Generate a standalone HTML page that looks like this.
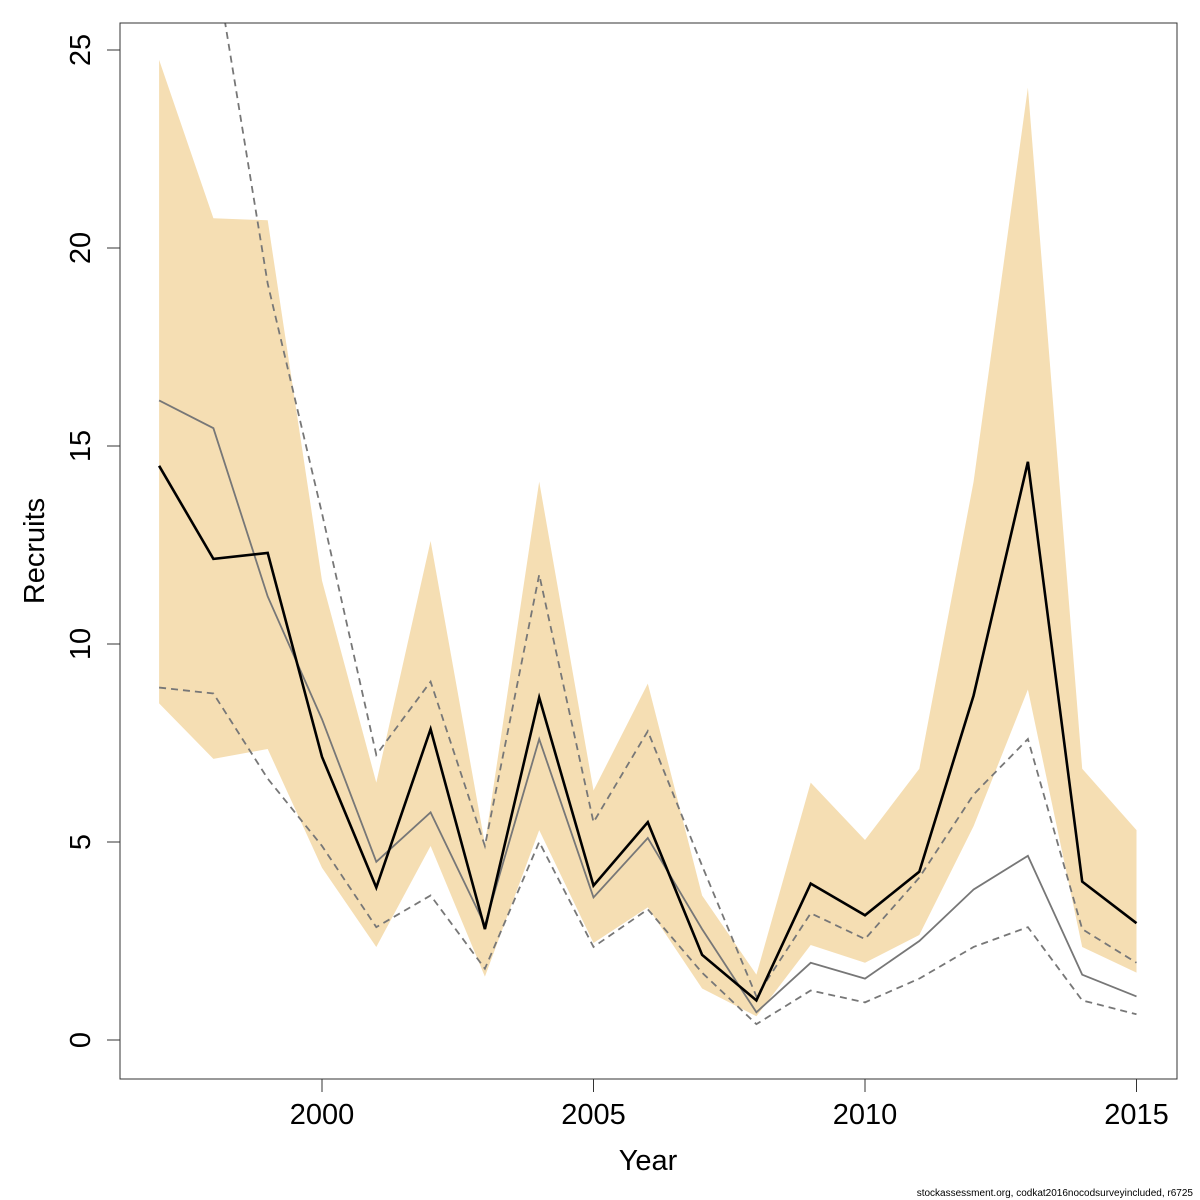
<!DOCTYPE html>
<html><head><meta charset="utf-8"><style>body{margin:0;background:#fff}svg{display:block}</style></head>
<body>
<svg id="chart" width="1200" height="1200" xmlns="http://www.w3.org/2000/svg" font-family="Liberation Sans, DejaVu Sans, sans-serif">
<defs><clipPath id="plotclip"><rect x="120" y="23" width="1057" height="1056"/></clipPath></defs>
<g id="band" clip-path="url(#plotclip)"></g>
<g id="lines" clip-path="url(#plotclip)"></g>
<rect x="120" y="23" width="1057" height="1056" fill="none" stroke="#333" stroke-width="1"/>
<g id="axes"></g>
<text x="648" y="1170" font-size="29" text-anchor="middle">Year</text>
<text transform="translate(44,551) rotate(-90)" font-size="29" text-anchor="middle">Recruits</text>
<text x="1193" y="1196" font-size="10" text-anchor="end">stockassessment.org, codkat2016nocodsurveyincluded, r6725</text>
</svg>
<script>
const years=[1997,1998,1999,2000,2001,2002,2003,2004,2005,2006,2007,2008,2009,2010,2011,2012,2013,2014,2015];
const recruits=[14.5,12.15,12.3,7.15,3.85,7.85,2.8,8.65,3.9,5.5,2.15,1.0,3.95,3.15,4.25,8.7,14.6,4.0,2.95];
const bandUpper=[24.75,20.75,20.7,11.6,6.5,12.6,4.95,14.1,6.3,9.0,3.65,1.65,6.5,5.05,6.85,14.1,24.05,6.85,5.3];
const bandLower=[8.5,7.1,7.35,4.35,2.35,4.9,1.6,5.3,2.45,3.35,1.3,0.6,2.4,1.95,2.65,5.4,8.85,2.35,1.7];
const altRecruits=[16.15,15.45,11.2,8.1,4.5,5.75,2.9,7.6,3.6,5.1,2.8,0.7,1.95,1.55,2.5,3.8,4.65,1.65,1.1];
const altUpper=[35,27.5,19.1,13.3,7.2,9.05,4.9,11.75,5.5,7.8,4.4,1.1,3.2,2.55,4.1,6.2,7.6,2.8,1.95];
const altLower=[8.9,8.75,6.6,4.9,2.85,3.65,1.8,5.0,2.35,3.3,1.7,0.4,1.25,0.95,1.55,2.35,2.85,1.0,0.65];
const xTicks=[2000,2005,2010,2015];
const yTicks=[0,5,10,15,20,25];
const xs=y=>322+(y-2000)*54.3;
const ys=v=>1040-v*39.6;
const NS="http://www.w3.org/2000/svg";
function mk(t,a,p){const e=document.createElementNS(NS,t);for(const k in a)e.setAttribute(k,a[k]);p.appendChild(e);return e;}
const band=document.getElementById('band'),lines=document.getElementById('lines'),axes=document.getElementById('axes');
const bp=years.map((y,i)=>xs(y)+','+ys(bandUpper[i])).concat(years.map((y,i)=>xs(y)+','+ys(bandLower[i])).reverse()).join(' ');
const poly=mk('polygon',{points:bp,fill:'#F5DEB3',stroke:'none'},band);


function line(arr,name,st){const el=mk('polyline',Object.assign({points:years.map((y,i)=>xs(y)+','+ys(arr[i])).join(' '),fill:'none'},st),lines);

}
line(altUpper,'alt-upper-dashed',{stroke:'#777','stroke-width':1.8,'stroke-dasharray':'7,5'});
line(altLower,'alt-lower-dashed',{stroke:'#777','stroke-width':1.8,'stroke-dasharray':'7,5'});
line(altRecruits,'alt-recruits-line',{stroke:'#777','stroke-width':1.8});
line(recruits,'recruits-line',{stroke:'#000','stroke-width':2.6});
xTicks.forEach(t=>{const l=mk('line',{x1:xs(t),x2:xs(t),y1:1079,y2:1092,stroke:'#333'},axes);


const tx=mk('text',{x:xs(t),y:1124,'font-size':29,'text-anchor':'middle'},axes);tx.textContent=t;

});
yTicks.forEach(t=>{const l=mk('line',{x1:107,x2:120,y1:ys(t),y2:ys(t),stroke:'#333'},axes);


const tx=mk('text',{transform:`translate(90,${ys(t)}) rotate(-90)`,'font-size':29,'text-anchor':'middle'},axes);tx.textContent=t;

});
</script>
</body></html>
